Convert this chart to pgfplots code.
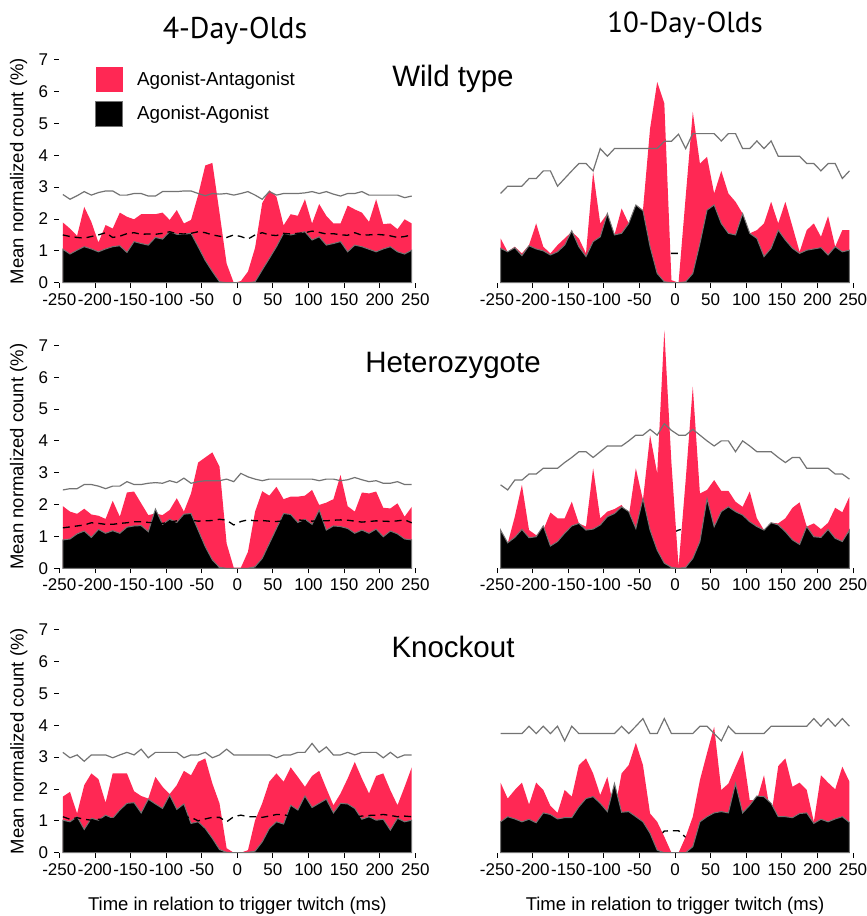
\documentclass[border=0pt]{standalone}
\usepackage{pgfplots}
\usepackage{pgfplotstable}
\pgfplotsset{compat=1.18}
\usepackage{fontspec}
\setmainfont{Liberation Sans}
\newfontfamily\titlefont{PT Sans}
\definecolor{agred}{RGB}{255,40,84}
\definecolor{lgray}{RGB}{115,115,115}

% x = bin centre (ms), r = agonist-antagonist, b = agonist-agonist, g = upper bound, d = dashed line
\pgfplotstableread{
x r b g d
-245 1.89 1.05 2.77 1.50
-235 1.70 0.90 2.62 1.45
-225 1.47 1.02 2.73 1.42
-215 2.38 1.13 2.86 1.40
-205 1.91 1.06 2.75 1.45
-195 1.26 0.97 2.83 1.50
-185 1.81 1.06 2.88 1.57
-175 1.70 1.13 2.88 1.42
-165 2.20 1.16 2.75 1.46
-155 2.07 0.95 2.75 1.54
-145 1.99 1.29 2.80 1.57
-135 2.15 1.23 2.80 1.52
-125 2.15 1.18 2.72 1.53
-115 2.15 1.42 2.72 1.52
-105 2.20 1.37 2.86 1.55
-95 1.97 1.60 2.86 1.60
-85 2.28 1.52 2.86 1.54
-75 1.86 1.52 2.88 1.53
-65 1.97 1.55 2.88 1.55
-55 2.75 1.13 2.80 1.60
-45 3.68 0.70 2.73 1.57
-35 3.76 0.35 2.80 1.50
-25 2.20 0.03 2.78 1.46
-15 0.60 0.00 2.80 1.42
-5 0.00 0.00 2.75 1.50
5 0.05 0.00 2.80 1.45
15 0.35 0.00 2.86 1.37
25 1.10 0.03 2.75 1.50
35 2.50 0.40 2.62 1.57
45 2.90 0.76 2.86 1.50
55 2.70 1.13 2.75 1.48
65 1.80 1.55 2.80 1.55
75 2.15 1.50 2.80 1.53
85 2.10 1.55 2.80 1.55
95 2.62 1.60 2.82 1.57
105 1.86 1.34 2.86 1.62
115 2.47 1.44 2.80 1.58
125 2.10 1.18 2.86 1.53
135 1.86 1.23 2.78 1.54
145 1.86 1.29 2.72 1.50
155 2.42 0.97 2.80 1.49
165 2.30 1.18 2.80 1.57
175 2.20 1.13 2.86 1.49
185 1.91 1.05 2.75 1.50
195 2.62 0.97 2.75 1.52
205 1.84 1.06 2.75 1.50
215 1.86 1.13 2.75 1.47
225 1.68 0.97 2.75 1.42
235 1.99 0.90 2.67 1.45
245 1.86 1.02 2.72 1.50
}\tWTfour

\pgfplotstableread{
x r b g d
-245 1.39 1.08 2.80 0.90
-235 0.97 0.97 3.03 0.90
-225 1.13 1.10 3.03 0.90
-215 0.92 0.85 3.03 0.80
-205 1.18 1.16 3.27 0.90
-195 1.86 1.06 3.27 0.90
-185 1.13 1.00 3.51 0.90
-175 0.92 0.87 3.51 0.80
-165 1.18 0.97 3.03 0.85
-155 1.39 1.18 3.27 0.90
-145 1.60 1.63 3.51 0.95
-135 1.39 1.13 3.74 0.95
-125 0.92 0.82 3.74 0.80
-115 3.48 1.29 3.51 1.00
-105 1.86 1.44 4.21 1.00
-95 2.17 2.17 3.97 1.00
-85 1.50 1.50 4.21 1.00
-75 2.33 1.55 4.21 1.00
-65 1.86 1.86 4.21 1.00
-55 2.44 2.44 4.21 1.00
-45 2.28 2.26 4.21 1.00
-35 4.84 1.13 4.21 1.05
-25 6.30 0.29 4.21 1.13
-15 5.63 0.03 4.44 0.92
-5 0.08 0.00 4.44 0.92
5 0.00 0.00 4.66 0.92
15 2.70 0.03 4.21 0.92
25 5.36 0.29 4.68 0.92
35 3.74 1.23 4.68 0.92
45 3.95 2.28 4.68 1.00
55 2.80 2.44 4.68 1.00
65 3.51 1.86 4.45 1.00
75 2.80 1.55 4.68 1.00
85 2.54 1.50 4.68 1.00
95 2.17 2.17 4.21 1.00
105 1.55 1.55 4.21 1.00
115 1.65 1.39 4.45 0.95
125 1.86 0.82 4.21 0.80
135 2.54 1.08 4.45 0.90
145 1.86 1.65 3.97 0.95
155 2.54 1.34 3.97 0.90
165 1.76 1.08 3.97 0.85
175 0.97 0.92 3.97 0.80
185 1.65 1.02 3.74 0.80
195 1.86 1.06 3.74 0.75
205 1.44 1.10 3.51 0.70
215 2.09 0.87 3.74 0.65
225 1.13 1.13 3.74 0.60
235 1.65 0.97 3.27 0.55
245 1.65 1.02 3.51 0.50
}\tWTten

\pgfplotstableread{
x r b g d
-245 1.95 0.89 2.46 1.27
-235 1.78 0.92 2.50 1.30
-225 1.71 1.08 2.50 1.33
-215 1.87 1.17 2.63 1.36
-205 1.69 0.97 2.63 1.43
-195 1.65 1.22 2.58 1.41
-185 1.55 1.10 2.50 1.38
-175 2.12 1.18 2.58 1.38
-165 1.62 1.10 2.58 1.41
-155 2.38 1.29 2.72 1.43
-145 2.41 1.33 2.63 1.46
-135 2.04 1.34 2.63 1.46
-125 1.67 1.15 2.67 1.44
-115 1.72 1.86 2.69 1.43
-105 1.67 1.38 2.67 1.41
-95 1.83 1.54 2.75 1.45
-85 2.20 1.44 2.69 1.49
-75 1.78 1.70 2.83 1.50
-65 2.35 1.72 2.67 1.51
-55 3.32 1.20 2.72 1.48
-45 3.48 0.68 2.75 1.49
-35 3.64 0.26 2.75 1.50
-25 3.19 0.03 2.75 1.54
-15 0.78 0.00 2.80 1.51
-5 0.02 0.00 2.72 1.36
5 0.02 0.00 2.98 1.47
15 0.52 0.00 2.87 1.52
25 1.78 0.05 2.80 1.49
35 2.42 0.31 2.75 1.50
45 2.28 0.78 2.80 1.48
55 2.56 1.25 2.80 1.47
65 2.17 1.72 2.80 1.49
75 2.25 1.69 2.80 1.50
85 2.25 1.44 2.80 1.52
95 2.28 1.54 2.80 1.50
105 2.46 1.38 2.80 1.48
115 1.99 1.83 2.75 1.49
125 2.06 1.20 2.80 1.49
135 2.17 1.33 2.80 1.51
145 2.93 1.31 2.75 1.52
155 1.95 1.25 2.78 1.51
165 1.78 1.10 2.85 1.48
175 2.38 1.20 2.78 1.45
185 2.35 1.10 2.72 1.47
195 2.41 1.23 2.75 1.49
205 1.90 0.99 2.67 1.48
215 1.88 1.17 2.67 1.47
225 2.04 1.08 2.72 1.49
235 1.62 0.92 2.63 1.52
245 1.93 0.89 2.63 1.43
}\tHETfour

\pgfplotstableread{
x r b g d
-245 1.20 1.20 2.62 0.70
-235 0.78 0.80 2.46 0.70
-225 1.62 0.97 2.77 0.75
-215 2.62 1.22 2.77 0.75
-205 1.20 0.96 2.96 0.75
-195 1.04 0.99 2.96 0.75
-185 1.20 1.33 3.14 0.75
-175 1.75 0.70 3.14 0.65
-165 1.57 0.84 3.14 0.75
-155 1.57 1.10 3.32 0.80
-145 2.09 1.33 3.48 0.85
-135 1.41 1.41 3.66 0.90
-125 1.31 1.20 3.66 0.90
-115 3.14 1.23 3.48 0.95
-105 1.57 1.36 3.66 0.95
-95 1.78 1.62 3.84 1.00
-85 1.86 1.72 3.84 1.00
-75 1.99 1.93 3.84 1.05
-65 1.62 1.78 4.00 1.05
-55 3.14 1.25 4.18 1.10
-45 2.14 2.19 4.18 1.10
-35 4.18 1.20 4.36 1.10
-25 2.98 0.57 4.18 1.10
-15 7.47 0.16 4.54 1.26
-5 3.30 0.03 4.33 1.10
5 0.05 0.00 4.18 1.20
15 2.77 0.03 4.18 1.25
25 5.70 0.31 4.36 1.25
35 2.35 0.84 4.18 1.22
45 2.46 2.19 4.00 1.15
55 2.77 1.31 3.84 1.10
65 2.43 1.78 4.00 1.10
75 2.43 1.93 4.00 1.05
85 2.09 1.78 3.66 1.00
95 1.93 1.67 4.00 1.00
105 2.41 1.46 3.84 0.95
115 1.57 1.31 3.66 0.95
125 1.20 1.20 3.66 0.90
135 1.43 1.43 3.66 0.90
145 1.41 1.36 3.48 0.85
155 1.57 1.15 3.32 0.80
165 1.90 0.89 3.48 0.78
175 2.07 0.75 3.48 0.73
185 1.31 1.31 3.14 0.70
195 1.41 0.99 3.14 0.68
205 1.23 0.97 3.14 0.65
215 1.43 1.22 3.14 0.62
225 1.90 0.94 2.96 0.60
235 1.76 0.84 2.96 0.58
245 2.25 1.20 2.80 0.57
}\tHETten

\pgfplotstableread{
x r b g d
-245 1.76 1.02 3.15 1.13
-235 1.91 0.97 2.98 1.05
-225 1.23 1.13 3.07 1.10
-215 2.12 0.73 2.87 1.05
-205 2.49 1.08 3.07 1.02
-195 2.31 1.02 3.07 1.05
-185 1.57 1.18 3.07 1.05
-175 2.49 1.08 2.98 1.07
-165 2.49 1.34 3.07 1.08
-155 2.49 1.55 3.15 1.10
-145 1.93 1.57 3.07 1.11
-135 1.78 1.25 3.25 1.12
-125 1.70 1.68 2.98 1.13
-115 2.38 1.53 3.15 1.14
-105 2.07 1.39 3.15 1.15
-95 1.84 1.81 3.15 1.14
-85 2.12 1.36 3.15 1.13
-75 2.57 1.53 2.98 1.12
-65 2.43 0.92 3.07 1.11
-55 2.85 0.97 3.07 1.00
-45 2.96 0.76 3.15 1.06
-35 2.17 0.45 2.98 1.11
-25 1.55 0.10 3.07 1.11
-15 0.14 0.01 3.25 0.97
-5 0.00 0.00 3.07 1.13
5 0.00 0.00 3.07 1.18
15 0.08 0.01 3.07 1.13
25 1.02 0.05 3.07 1.13
35 1.55 0.34 3.07 1.11
45 2.23 0.76 3.07 1.15
55 2.49 0.97 2.98 1.20
65 2.23 0.90 3.07 1.20
75 2.68 1.49 3.07 1.13
85 2.38 1.34 3.15 1.15
95 2.07 1.78 3.15 1.17
105 2.41 1.42 3.43 1.15
115 2.57 1.55 3.15 1.17
125 2.02 1.68 3.32 1.17
135 1.49 1.25 3.07 1.16
145 1.86 1.55 3.07 1.15
155 2.33 1.53 3.15 1.15
165 2.85 1.39 3.07 1.13
175 2.33 1.05 3.15 1.15
185 1.86 1.13 3.15 1.17
195 2.41 1.02 3.15 1.18
205 2.49 1.05 2.98 1.20
215 1.96 0.71 3.15 1.17
225 1.49 1.08 2.98 1.13
235 2.07 0.97 3.07 1.15
245 2.68 1.02 3.07 1.13
}\tKOfour

\pgfplotstableread{
x r b g d
-245 2.20 0.97 3.74 0.90
-235 1.70 1.13 3.74 0.90
-225 1.97 1.06 3.74 0.90
-215 2.20 0.97 3.74 0.90
-205 1.51 1.05 3.97 0.90
-195 2.20 0.94 3.74 0.90
-185 1.97 1.25 3.97 0.90
-175 1.47 1.20 3.74 0.90
-165 1.25 1.06 3.97 0.90
-155 1.97 1.10 3.51 0.90
-145 1.76 1.10 3.97 0.90
-135 2.75 1.44 3.74 0.90
-125 2.96 1.70 3.74 0.90
-115 2.49 1.76 3.74 0.90
-105 1.81 1.55 3.74 0.90
-95 2.38 1.29 3.74 0.90
-85 1.29 2.17 3.74 0.90
-75 2.49 1.27 3.97 0.90
-65 2.75 1.29 3.74 0.90
-55 3.45 1.13 3.97 0.85
-45 2.75 0.97 4.21 0.80
-35 1.23 0.61 3.74 0.69
-25 0.97 0.08 3.74 0.45
-15 0.50 0.00 4.21 0.68
-5 0.00 0.00 3.74 0.69
5 0.00 0.00 3.74 0.69
15 0.50 0.00 3.74 0.48
25 1.13 0.19 3.74 0.66
35 2.28 0.97 3.97 0.80
45 3.13 1.13 3.97 0.85
55 3.95 1.25 3.74 0.90
65 1.97 1.29 3.51 0.90
75 2.17 1.25 3.97 0.90
85 2.70 2.17 3.74 0.90
95 3.20 1.25 3.74 0.90
105 1.65 1.49 3.74 0.90
115 1.65 1.78 3.74 0.90
125 2.43 1.76 3.74 0.90
135 1.13 1.55 3.97 0.90
145 2.72 1.13 3.97 0.90
155 2.96 1.13 3.97 0.90
165 2.07 1.10 3.97 0.90
175 2.20 1.23 3.97 0.90
185 1.97 1.25 3.97 0.90
195 0.97 0.92 4.21 0.90
205 2.43 1.05 3.97 0.90
215 2.20 0.97 4.21 0.90
225 1.99 1.06 3.97 0.90
235 2.70 1.13 4.21 0.90
245 2.23 0.95 3.97 0.92
}\tKOten

\pgfplotsset{
  panel/.style={
    scale only axis, width=356pt, height=223pt,
    xmin=-250, xmax=250, ymin=0, ymax=7,
    clip=false,
    axis line style={draw=none},
    xtick={-250,-200,...,250},
    xtick pos=bottom, ytick pos=left,
    tick align=outside,
    major tick length=5pt,
    tick style={black, line width=0.8pt},
    ticklabel style={font=\fontsize{17}{17}\selectfont, inner sep=0pt},
    xticklabel style={yshift=-5.5pt},
    yticklabel style={xshift=-6pt},
    /pgf/number format/assume math mode=true,
  },
  leftp/.style={panel, ytick={0,...,7},
    ylabel={Mean normalized count (\%)},
    ylabel style={font=\fontsize{18.5}{18.5}\selectfont,
      at={([xshift=-35.8pt]axis description cs:0,0.5)}, anchor=base}},
  rightp/.style={panel, ytick=\empty},
  bottomp/.style={xlabel={Time in relation to trigger twitch (ms)},
    xlabel style={font=\fontsize{18.5}{18.5}\selectfont,
      at={([yshift=-57.5pt]axis description cs:0.5,0)}, anchor=base}},
  red area/.style={fill=agred, draw=none},
  black area/.style={fill=black, draw=lgray, line width=1pt},
  bound/.style={lgray, line width=1.2pt, forget plot},
  chance/.style={black, line width=1.3pt, dash pattern=on 7pt off 5pt, forget plot},
  legend image code/.code={\fill[#1] (0pt,-12.5pt) rectangle (27pt,12.5pt);},
}

\begin{document}
\begin{tikzpicture}
\path[use as bounding box] (0pt,0pt) rectangle (867pt,-916pt);

% 4-day-olds, left column
\begin{axis}[leftp, at={(59.3pt,-282.7pt)}, anchor=south west,
  legend style={at={(axis cs:-200,6.78)}, anchor=north west, draw=none, fill=none,
    font=\fontsize{18.8}{18.8}\selectfont, row sep=9pt, column sep=12pt, inner sep=0pt},
  legend cell align=left]
\addplot[red area] table[y=r]{\tWTfour} \closedcycle;
\addplot[black area] table[y=b]{\tWTfour} \closedcycle;
\addplot[bound] table[y=g]{\tWTfour};
\addplot[chance] table[y=d]{\tWTfour};
\legend{Agonist-Antagonist, Agonist-Agonist}
\end{axis}

\begin{axis}[leftp, at={(59.3pt,-568.3pt)}, anchor=south west]
\addplot[red area] table[y=r]{\tHETfour} \closedcycle;
\addplot[black area] table[y=b]{\tHETfour} \closedcycle;
\addplot[bound] table[y=g]{\tHETfour};
\addplot[chance] table[y=d]{\tHETfour};
\end{axis}

\begin{axis}[leftp, bottomp, at={(59.3pt,-852.7pt)}, anchor=south west]
\addplot[red area] table[y=r]{\tKOfour} \closedcycle;
\addplot[black area] table[y=b]{\tKOfour} \closedcycle;
\addplot[bound] table[y=g]{\tKOfour};
\addplot[chance] table[y=d]{\tKOfour};
\end{axis}

% 10-day-olds, right column (dashed line lies under the areas)
\begin{axis}[rightp, at={(497pt,-282.7pt)}, anchor=south west]
\addplot[chance] table[y=d]{\tWTten};
\addplot[red area] table[y=r]{\tWTten} \closedcycle;
\addplot[black area] table[y=b]{\tWTten} \closedcycle;
\addplot[bound] table[y=g]{\tWTten};
\end{axis}

\begin{axis}[rightp, at={(497pt,-568.3pt)}, anchor=south west]
\addplot[chance] table[y=d]{\tHETten};
\addplot[red area] table[y=r]{\tHETten} \closedcycle;
\addplot[black area] table[y=b]{\tHETten} \closedcycle;
\addplot[bound] table[y=g]{\tHETten};
\end{axis}

\begin{axis}[rightp, bottomp, at={(497pt,-852.7pt)}, anchor=south west]
\addplot[chance] table[y=d]{\tKOten};
\addplot[red area] table[y=r]{\tKOten} \closedcycle;
\addplot[black area] table[y=b]{\tKOten} \closedcycle;
\addplot[bound] table[y=g]{\tKOten};
\end{axis}

% titles
\node[anchor=base, font=\titlefont\fontsize{30}{30}\selectfont] at (235pt,-38pt) {4-Day-Olds};
\node[anchor=base, font=\titlefont\fontsize{29}{29}\selectfont] at (685pt,-32pt) {10-Day-Olds};
\node[anchor=base, font=\fontsize{29.5}{29.5}\selectfont] at (453pt,-86.7pt) {Wild type};
\node[anchor=base, font=\fontsize{29.5}{29.5}\selectfont] at (453pt,-372pt) {Heterozygote};
\node[anchor=base, font=\fontsize{29.5}{29.5}\selectfont] at (453pt,-657pt) {Knockout};
\end{tikzpicture}
\end{document}
